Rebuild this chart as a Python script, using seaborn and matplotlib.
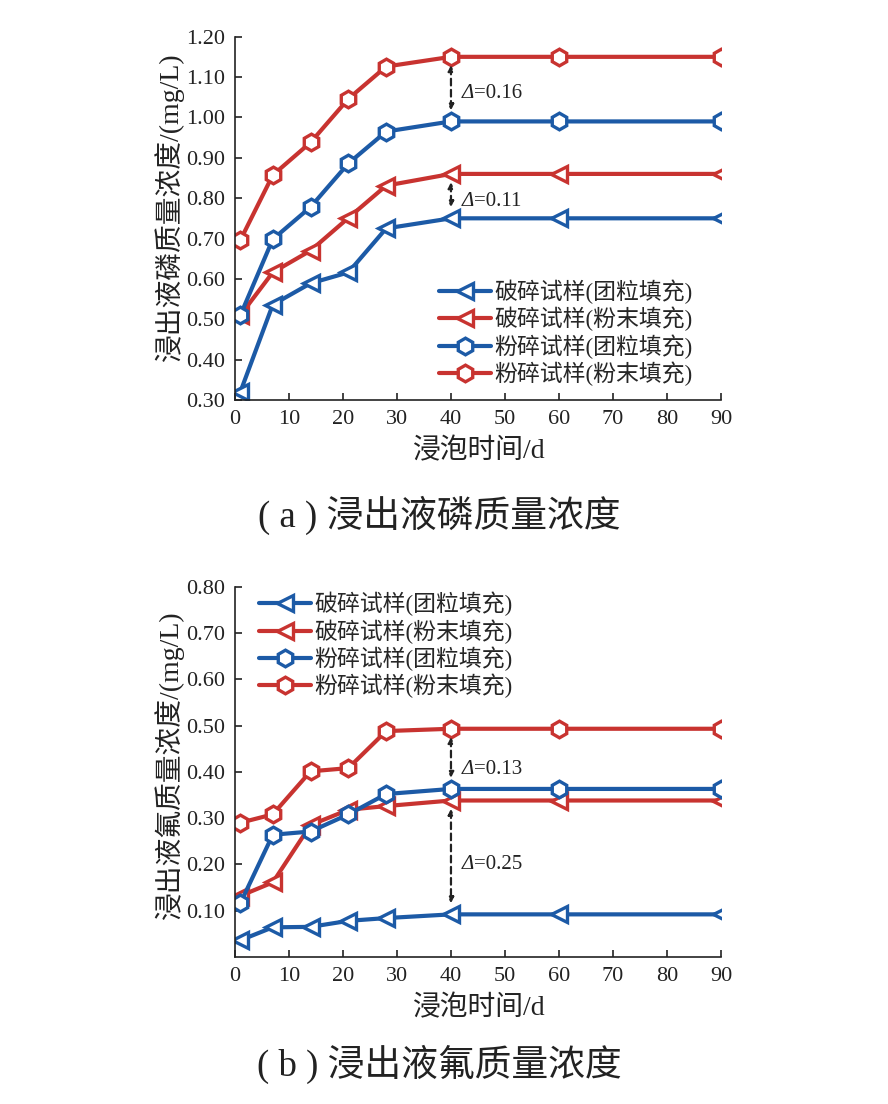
import matplotlib
matplotlib.use("Agg")
import matplotlib.pyplot as plt
import seaborn as sns
import pandas as pd

sns.set_theme(style="ticks")
plt.rcParams['font.family'] = ['Liberation Serif', 'Noto Sans CJK SC']
plt.rcParams['axes.unicode_minus'] = False

days = [1, 7, 14, 21, 28, 40, 60, 90]
series_names = ["破碎试样(团粒填充)", "破碎试样(粉末填充)", "粉碎试样(团粒填充)", "粉碎试样(粉末填充)"]

# (a) phosphorus
p_broken_granule = [0.32, 0.536, 0.589, 0.616, 0.725, 0.75, 0.75, 0.75]
p_broken_powder = [0.51, 0.616, 0.670, 0.751, 0.831, 0.86, 0.86, 0.86]
p_crushed_granule = [0.51, 0.698, 0.778, 0.886, 0.965, 0.99, 0.99, 0.99]
p_crushed_powder = [0.696, 0.857, 0.938, 1.046, 1.126, 1.15, 1.15, 1.15]

# (b) fluorine
f_broken_granule = [0.036, 0.064, 0.065, 0.078, 0.084, 0.092, 0.092, 0.092]
f_broken_powder = [0.132, 0.161, 0.285, 0.318, 0.326, 0.338, 0.338, 0.338]
f_crushed_granule = [0.116, 0.264, 0.271, 0.308, 0.352, 0.363, 0.363, 0.363]
f_crushed_powder = [0.290, 0.308, 0.401, 0.408, 0.488, 0.493, 0.493, 0.493]

p_yticks = [0.30, 0.40, 0.50, 0.60, 0.70, 0.80, 0.90, 1.00, 1.10, 1.20]
f_yticks = [0.10, 0.20, 0.30, 0.40, 0.50, 0.60, 0.70, 0.80]
xticks = [0, 10, 20, 30, 40, 50, 60, 70, 80, 90]

BLUE = "#1c5aa6"
RED = "#c83330"
INK = "#222222"
colors = [BLUE, RED, BLUE, RED]
markers = ["<", "<", "h", "h"]

fig = plt.figure(figsize=(8.88, 11.04), dpi=100)
ax1 = fig.add_axes([0.2646, 0.6377, 0.5473, 0.3291])
ax2 = fig.add_axes([0.2646, 0.1332, 0.5473, 0.3354])

cjk = ['Liberation Serif', 'Noto Sans CJK SC']


def draw(ax, data, ylim, yticks, ylabel, ylabel_y, legend_kw, deltas):
    for name, vals, c, m in zip(series_names, data, colors, markers):
        df = pd.DataFrame({"day": days, "val": vals})
        sns.lineplot(data=df, x="day", y="val", ax=ax, color=c, marker=m,
                     markersize=12, markerfacecolor="white", markeredgecolor=c,
                     markeredgewidth=2.4, linewidth=3, label=name)
    ax.set_xlim(0, 90)
    ax.set_ylim(*ylim)
    ax.set_xticks(xticks)
    ax.set_yticks(yticks)
    ax.set_yticklabels([f"{t:.2f}" for t in yticks])
    ax.tick_params(direction="in", length=5, width=1.2, labelsize=16, colors=INK)
    ax.tick_params(axis="x", pad=7)
    ax.tick_params(axis="y", pad=7)
    for lab in ax.get_xticklabels() + ax.get_yticklabels():
        lab.set_family('Liberation Serif')
    for s in ["top", "right"]:
        ax.spines[s].set_visible(False)
    for s in ["left", "bottom"]:
        ax.spines[s].set_linewidth(1.2)
        ax.spines[s].set_color(INK)
    ax.set_xlabel("浸泡时间/d", fontsize=20, family=cjk, labelpad=7, color=INK)
    ax.set_ylabel(ylabel, fontsize=20, family=cjk, color=INK)
    ax.yaxis.set_label_coords(-0.105, ylabel_y)
    ax.legend(frameon=False, prop={'family': cjk, 'size': 16.5},
              handlelength=2.3, handletextpad=0.15, labelspacing=0.12, **legend_kw)
    for (top, bot, txt, ty) in deltas:
        ax.annotate("", xy=(days[5], bot), xytext=(days[5], top),
                    arrowprops=dict(arrowstyle="<|-|>", linestyle=(0, (3, 2)),
                                    color=INK, lw=1.6, mutation_scale=8,
                                    shrinkA=6, shrinkB=8))
        ax.text(days[5] + 2.0, ty, "Δ", fontsize=15, family='Liberation Serif',
                style="italic", va="center", color=INK)
        ax.annotate("=" + txt, xy=(days[5] + 2.0, ty), xytext=(8.6, 0),
                    textcoords="offset points", fontsize=15,
                    family='Liberation Serif', va="center", color=INK)


draw(ax1, [p_broken_granule, p_broken_powder, p_crushed_granule, p_crushed_powder],
     (0.30, 1.20), p_yticks, "浸出液磷质量浓度/(mg/L)", 0.53,
     dict(loc="lower right", bbox_to_anchor=(0.985, -0.018)),
     [(p_crushed_powder[5], p_crushed_granule[5], "0.16", 1.058),
      (p_broken_powder[5], p_broken_granule[5], "0.11", 0.792)])

draw(ax2, [f_broken_granule, f_broken_powder, f_crushed_granule, f_crushed_powder],
     (0.0, 0.80), f_yticks, "浸出液氟质量浓度/(mg/L)", 0.517,
     dict(loc="upper left", bbox_to_anchor=(0.006, 1.042)),
     [(f_crushed_powder[5], f_crushed_granule[5], "0.13", 0.405),
      (f_broken_powder[5], f_broken_granule[5], "0.25", 0.199)])

fig.text(0.495, 0.5335, "( a ) 浸出液磷质量浓度", ha="center", va="center",
         fontsize=26.5, family=cjk, color=INK)
fig.text(0.495, 0.0362, "( b ) 浸出液氟质量浓度", ha="center", va="center",
         fontsize=26.5, family=cjk, color=INK)

fig.savefig("out.png", dpi=100)
